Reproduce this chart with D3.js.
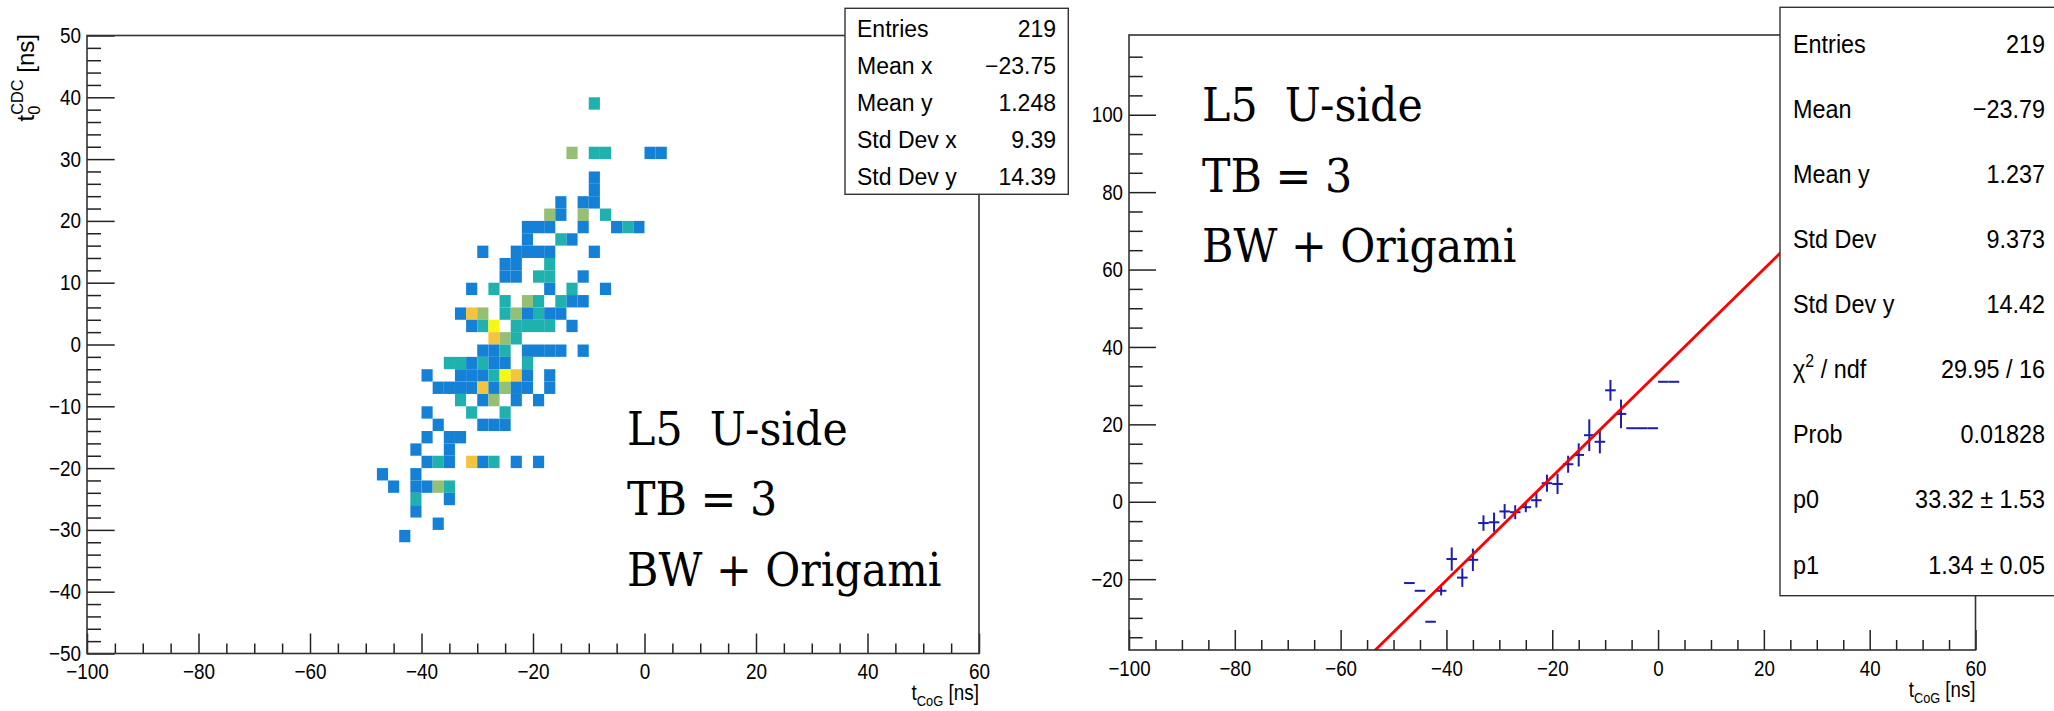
<!DOCTYPE html>
<meta charset="utf-8">
<html>
<head>
<style>
  body { margin: 0; background: #fff; }
  text.lab { font-family: "Liberation Sans", Arial, sans-serif; fill: #000; white-space: pre; }
  text.big { font-family: "DejaVu Serif", "Liberation Serif", serif; font-size: 47.5px; fill: #000; white-space: pre; }
  .frame { fill: none; stroke: #333; stroke-width: 1.6px; }
  .statbox { fill: #fff; stroke: #333; stroke-width: 1.4px; }
  .tick line { stroke: #222; stroke-width: 1.5px; }
</style>
<script type="text/javascript" src="https://cdn.jsdelivr.net/npm/d3@7/dist/d3.min.js"></script>
</head>
<body>
<div id="chart"></div>
<script type="text/javascript">
// ---- left: 2D histogram, 2 ns x 2 ns bins (lower edges + entries) ----
var cellX = [-10,
  -14,-10,-8,0,2,
  -10, -10,
  -16,-12,-10,
  -18,-16,-12,-8,
  -22,-20,-18,-12,-6,-4,-2,
  -22,-16,-14,
  -30,-24,-22,-20,-18,-10,
  -26,-24,-18,
  -26,-24,-20,-18,-12,
  -32,-28,-18,-14,-8,
  -26,-22,-20,-16,-14,-12,
  -34,-32,-30,-26,-24,-22,-20,-18,-16,
  -32,-30,-28,-24,-22,-20,-18,-14,
  -28,-26,-24,
  -30,-28,-26,-22,-20,-18,-16,-12,
  -36,-34,-32,-30,-28,-26,-22,
  -40,-34,-32,-30,-28,-26,-24,-22,-18,
  -38,-36,-34,-32,-30,-28,-26,-24,-22,-18,
  -34,-30,-28,-24,-20,
  -40,-32,-26,
  -38,-30,-28,-26,
  -40,-36,-34,
  -42,-36,
  -40,-38,-36,-32,-30,-28,-24,-20,
  -48,-42,
  -46,-42,-40,-38,-36,
  -42,-36,
  -42, -38, -44];
var cellY = [38,
  30,30,30,30,30,
  26, 24,
  22,22,22,
  20,20,20,20,
  18,18,18,18,18,18,18,
  16,16,16,
  14,14,14,14,14,14,
  12,12,12,
  10,10,10,10,10,
  8,8,8,8,8,
  6,6,6,6,6,6,
  4,4,4,4,4,4,4,4,4,
  2,2,2,2,2,2,2,2,
  0,0,0,
  -2,-2,-2,-2,-2,-2,-2,-2,
  -4,-4,-4,-4,-4,-4,-4,
  -6,-6,-6,-6,-6,-6,-6,-6,-6,
  -8,-8,-8,-8,-8,-8,-8,-8,-8,-8,
  -10,-10,-10,-10,-10,
  -12,-12,-12,
  -14,-14,-14,-14,
  -16,-16,-16,
  -18,-18,
  -20,-20,-20,-20,-20,-20,-20,-20,
  -22,-22,
  -24,-24,-24,-24,-24,
  -26,-26,
  -28, -30, -32];
var cellN = [2,
  3,2,2,1,1,
  1, 1,
  1,1,1,
  3,1,3,2,
  1,1,1,1,1,2,1,
  1,2,1,
  1,1,1,1,1,1,
  1,1,2,
  1,1,2,2,1,
  1,2,1,2,1,
  2,3,2,2,1,1,
  1,4,3,2,3,1,2,1,1,
  1,2,5,2,2,2,2,1,
  4,3,2,
  1,1,2,1,1,1,1,1,
  2,2,1,2,1,1,2,
  1,1,1,1,2,5,4,1,1,
  1,1,1,1,4,1,3,1,1,1,
  2,1,3,1,1,
  1,2,2,
  1,1,1,1,
  1,1,1,
  1,1,
  1,2,1,4,1,2,1,1,
  1,1,
  1,1,1,3,2,
  2,1,
  1, 1, 1];
var palette = ["#1581d6", "#1fb1ad", "#95bf72", "#f3c43d", "#f8f712"];   // 1..5 entries

// ---- right: profile (bin centres, mean y, error) and pol1 fit ----
var profX = [-47,-45,-43,-41,-39,-37,-35,-33,-31,-29,-27,-25,-23,-21,-19,-17,-15,-13,-11,-9,-7,-5,-3,-1,1,3];
var profY = [-21,-23,-31,-23,-14.8,-19.6,-15,-5.5,-5.3,-2.5,-2.7,-1.4,0.4,4.8,4.6,9.7,12.1,17.2,15.5,28.8,22.7,19,19,19,31,31];
var profErr = [0,0,0,1.2,3.0,2.4,2.9,2.0,2.5,1.9,1.8,1.3,1.9,2.2,2.6,2.2,3.0,4.1,3.0,2.7,3.7,0,0,0,0,0];
var fitP0 = 33.32, fitP1 = 1.34;

var statsLeftNames = ["Entries", "Mean x", "Mean y", "Std Dev x", "Std Dev y"];
var statsLeftValues = ["219", "\u221223.75", "1.248", "9.39", "14.39"];
var statsRightNames = ["Entries", "Mean", "Mean y", "Std Dev", "Std Dev y", "\u03c7^{2} / ndf", "Prob", "p0", "p1"];
var statsRightValues = ["219", "\u221223.79", "1.237", "9.373", "14.42", "29.95 / 16", "0.01828", "33.32 \u00b1 1.53", "1.34 \u00b1 0.05"];
var labelLines = ["L5  U-side", "TB = 3", "BW + Origami"];

var W = 2054, H = 711;
var svg = d3.select("#chart").append("svg").attr("width", W).attr("height", H);
svg.append("rect").attr("width", W).attr("height", H).attr("fill", "#fff");

var fmt = function(d) { return d < 0 ? "\u2212" + Math.abs(d) : "" + d; };

// tiny ROOT-latex: handles _{..} and ^{..}
function latex(g, str, size) {
  var re = /(_|\^)\{([^}]*)\}/g, pieces = [], last = 0, m;
  while ((m = re.exec(str))) {
    if (m.index > last) pieces.push({t: str.slice(last, m.index), k: "n"});
    pieces.push({t: m[2], k: m[1] == "_" ? "sub" : "sup"});
    last = re.lastIndex;
  }
  if (last < str.length) pieces.push({t: str.slice(last), k: "n"});
  var x = 0, prevStart = 0, prevKind = null;
  pieces.forEach(function(p) {
    var fs = p.k == "n" ? size : size * 0.68;
    var dy = p.k == "sub" ? size * 0.28 : p.k == "sup" ? -size * 0.42 : 0;
    var sx = (p.k == "sup" && prevKind == "sub") ? prevStart : x;
    var t = g.append("text").attr("class", "lab").attr("x", sx).attr("y", dy)
      .style("font-size", fs + "px").text(p.t);
    var w = t.node().getComputedTextLength();
    x = Math.max(x, sx + w);
    prevStart = sx; prevKind = p.k;
  });
  return x;
}

function axes(g, x, y, o) {
  var x0 = x.range()[0], y0 = y.range()[0];
  var sq = o.squeeze;
  // y axis
  var ay = g.append("g").attr("transform", "translate(" + x0 + ",0)");
  ay.append("g").call(d3.axisLeft(y).tickValues(o.yMinor).tickSize(-o.yMinLen).tickFormat(""));
  ay.append("g").call(d3.axisLeft(y).tickValues(o.yMajor).tickSize(-o.yMajLen).tickPadding(6).tickFormat(fmt));
  // x axis
  var ax = g.append("g").attr("transform", "translate(0," + y0 + ")");
  ax.append("g").call(d3.axisBottom(x).tickValues(o.xMinor).tickSize(-10).tickFormat(""));
  ax.append("g").call(d3.axisBottom(x).tickValues(o.xMajor).tickSize(-20).tickPadding(10).tickFormat(fmt));
  g.selectAll(".domain").remove();
  ay.selectAll("text").attr("class", "lab").attr("font-size", null).style("font-size", "22px")
    .attr("x", -6 / sq).attr("transform", "scale(" + sq + ",1)");
  ax.selectAll("text").attr("class", "lab").style("font-size", "22px")
    .attr("transform", "scale(" + sq + ",1)");
  g.append("rect").attr("class", "frame")
    .attr("x", x0).attr("y", y.range()[1])
    .attr("width", x.range()[1] - x0).attr("height", y0 - y.range()[1]);
  // x title, right aligned to axis end
  var tg = g.append("g");
  var w = latex(tg, "t_{CoG} [ns]", 22);
  tg.attr("transform", "translate(" + (x.range()[1] - w * sq) + "," + o.xTitleY + ") scale(" + sq + ",1)");
}

function statBox(g, bx, by, bw, bh, names, values, o) {
  g.append("rect").attr("class", "statbox").attr("x", bx).attr("y", by).attr("width", bw).attr("height", bh);
  names.forEach(function(n, i) {
    var yy = o.base + o.step * i;
    var ng = g.append("g");
    latex(ng, n, o.size);
    ng.attr("transform", "translate(" + o.left + "," + yy + ") scale(" + o.sq + ",1)");
    g.append("text").attr("class", "lab").style("font-size", o.size + "px")
      .attr("text-anchor", "end")
      .attr("transform", "translate(" + o.right + "," + yy + ") scale(" + o.sq + ",1)")
      .text(values[i]);
  });
}

function bigText(g, x0, y0, step) {
  labelLines.forEach(function(s, i) {
    g.append("text").attr("class", "big")
      .attr("transform", "translate(" + x0 + "," + (y0 + step * i) + ") scale(0.9,1)")
      .text(s);
  });
}

// ================= left pad =================
var xL = d3.scaleLinear().domain([-100, 60]).range([87, 979]);
var yL = d3.scaleLinear().domain([-50, 50]).range([653.5, 35.5]);
var gL = svg.append("g");

gL.selectAll(".cell").data(cellX).enter().append("rect")
  .attr("class", "cell")
  .attr("x", function(d) { return xL(d); })
  .attr("y", function(d, i) { return yL(cellY[i] + 2); })
  .attr("width", function(d) { return xL(d + 2) - xL(d); })
  .attr("height", function(d, i) { return yL(cellY[i]) - yL(cellY[i] + 2); })
  .attr("fill", function(d, i) { return palette[cellN[i] - 1]; });

axes(gL, xL, yL, {
  squeeze: 0.86,
  yMajor: d3.range(-50, 51, 10), yMinor: d3.range(-50, 51, 2).filter(function(v) { return v % 10; }),
  yMajLen: 27.7, yMinLen: 14,
  xMajor: d3.range(-100, 61, 20), xMinor: d3.range(-100, 61, 5).filter(function(v) { return v % 20; }),
  xTitleY: 700
});

// y title
var ytg = gL.append("g");
var yw = latex(ytg, "t_{0}^{CDC} [ns]", 24);
ytg.attr("transform", "translate(33.5,34) rotate(-90) translate(" + (-yw) + ",0)");

bigText(gL, 627, 445, 70.4);

statBox(gL, 845, 8.3, 223.3, 186, statsLeftNames, statsLeftValues,
  {size: 23, sq: 1, base: 37, step: 37, left: 857, right: 1056});

// ================= right pad =================
var xR = d3.scaleLinear().domain([-100, 60]).range([1129, 1975.5]);
var yR = d3.scaleLinear().domain([-38.3, 120.6]).range([650, 35]);
var gR = svg.append("g");

svg.append("clipPath").attr("id", "clipR").append("rect")
  .attr("x", 1129).attr("y", 35).attr("width", 1975.5 - 1129).attr("height", 615);

var prof = gR.append("g").attr("stroke", "#1c1cb0").attr("stroke-width", 2);
prof.selectAll(".hbar").data(profX).enter().append("line")
  .attr("x1", function(d) { return xR(d - 1); })
  .attr("x2", function(d) { return xR(d + 1); })
  .attr("y1", function(d, i) { return yR(profY[i]); })
  .attr("y2", function(d, i) { return yR(profY[i]); });
prof.selectAll(".vbar").data(profX.filter(function(d, i) { return profErr[i] > 0; })).enter().append("line")
  .attr("x1", function(d) { return xR(d); })
  .attr("x2", function(d) { return xR(d); })
  .attr("y1", function(d) { var i = profX.indexOf(d); return yR(profY[i] - profErr[i]); })
  .attr("y2", function(d) { var i = profX.indexOf(d); return yR(profY[i] + profErr[i]); });

var fitLine = d3.line()
  .x(function(d) { return xR(d); })
  .y(function(d) { return yR(fitP0 + fitP1 * d); });
gR.append("path").attr("clip-path", "url(#clipR)")
  .attr("d", fitLine(xR.domain()))
  .attr("fill", "none").attr("stroke", "#ff0000").attr("stroke-width", 2.8);

axes(gR, xR, yR, {
  squeeze: 0.85,
  yMajor: d3.range(-20, 101, 20), yMinor: d3.range(-35, 116, 5).filter(function(v) { return v % 20; }),
  yMajLen: 27, yMinLen: 13.7,
  xMajor: d3.range(-100, 61, 20), xMinor: d3.range(-100, 61, 5).filter(function(v) { return v % 20; }),
  xTitleY: 697
});

bigText(gR, 1202, 120.7, 70.8);

statBox(gR, 1780, 7.3, 320, 588.4, statsRightNames, statsRightValues,
  {size: 26, sq: 0.9, base: 52.7, step: 65.1, left: 1793, right: 2045});
</script>
</body>
</html>
